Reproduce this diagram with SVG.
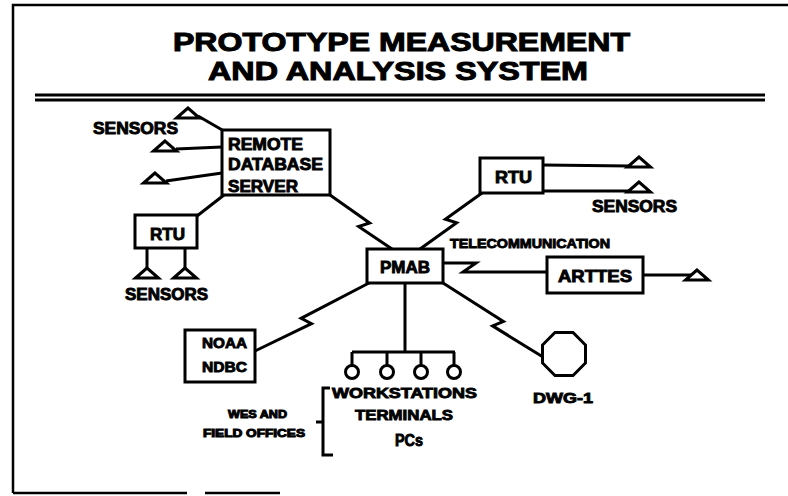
<svg xmlns="http://www.w3.org/2000/svg" xmlns:xlink="http://www.w3.org/1999/xlink" width="788" height="496" viewBox="0 0 788 496">
<style>
.ln{fill:none;stroke:#000;stroke-width:3;stroke-linejoin:miter;stroke-linecap:butt}
.box{fill:#fff;stroke:#000;stroke-width:3}
.sen{fill:#fff;stroke:#000;stroke-width:3;stroke-linejoin:miter}
.t{font-family:"Liberation Sans",Arial,sans-serif;font-weight:bold;fill:#000;stroke:#000;stroke-width:0.9}
.title{font-family:"Liberation Sans",Arial,sans-serif;font-weight:bold;font-size:25.5px;fill:#000;stroke:#000;stroke-width:1}
</style>
<defs>
<polygon id="tri" class="sen" points="0,0 -11.5,10 11.5,10"/>
</defs>
<rect width="788" height="496" fill="#fff"/>

<g id="frame" class="ln">
<path d="M13,493 L13,5 L788,5" stroke-width="2.5"/>
<path d="M13,493 L187,493 M205,493 L280,493" stroke-width="2.5"/>
<path d="M35,95 L765,95" stroke-width="3"/>
<path d="M35,100 L765,100" stroke-width="3"/>
</g>

<g id="title">
<text class="title" x="173" y="51" textLength="457" lengthAdjust="spacingAndGlyphs">PROTOTYPE MEASUREMENT</text>
<text class="title" x="208" y="79.5" textLength="380" lengthAdjust="spacingAndGlyphs">AND ANALYSIS SYSTEM</text>
</g>

<g id="connectors" class="ln">
<path d="M198,116 L224,131"/>
<path d="M176,149 L222,147"/>
<path d="M166,181 L222,173"/>
<path d="M224,195 L197,216"/>
<path d="M147,248 L147,268 M185,248 L185,268"/>
<path d="M330,195 L369.7,222.9 L358.6,226.5 L392,249"/>
<path d="M482,193 L445.4,219.3 L456.6,222.7 L420,249"/>
<path d="M543,165 L630,166 M543,191 L630,191"/>
<path d="M443,263 L476,263 L463,272 L547,272"/>
<path d="M643,275 L691,275"/>
<path d="M369,283 L301.1,318.3 L311.5,323.7 L255,351"/>
<path d="M405,283 L405,352 M352,352 L455,352"/>
<path d="M352,352 L352,366 M387,352 L387,366 M421,352 L421,366 M454,352 L454,366"/>
<path d="M443,283 L503.4,321.5 L492.6,325.9 L543,357"/>
<path d="M330,388 L323,388 L323,455 L333,455 M323,422 L316,422"/>
</g>

<g id="sensors-rds">
<use xlink:href="#tri" x="188" y="108"/>
<use xlink:href="#tri" x="165" y="141"/>
<use xlink:href="#tri" x="155" y="173"/>
<text class="t" x="93" y="134" font-size="16" textLength="85" lengthAdjust="spacingAndGlyphs">SENSORS</text>
</g>

<g id="remote-database-server">
<rect class="box" x="222" y="130" width="108" height="65"/>
<text class="t" x="228" y="150" font-size="16.5" textLength="75" lengthAdjust="spacingAndGlyphs">REMOTE</text>
<text class="t" x="228" y="170" font-size="16.5" textLength="95" lengthAdjust="spacingAndGlyphs">DATABASE</text>
<text class="t" x="228" y="192" font-size="16.5" textLength="70" lengthAdjust="spacingAndGlyphs">SERVER</text>
</g>

<g id="rtu-left">
<rect class="box" x="135" y="215" width="62" height="33"/>
<text class="t" x="150" y="240" font-size="17" textLength="35" lengthAdjust="spacingAndGlyphs">RTU</text>
</g>

<g id="sensors-rtu-left">
<use xlink:href="#tri" x="147" y="268"/>
<use xlink:href="#tri" x="185" y="268"/>
<text class="t" x="125" y="300" font-size="16" textLength="83" lengthAdjust="spacingAndGlyphs">SENSORS</text>
</g>

<g id="rtu-right">
<rect class="box" x="480" y="158" width="63" height="35"/>
<text class="t" x="495" y="183" font-size="16" textLength="37" lengthAdjust="spacingAndGlyphs">RTU</text>
</g>

<g id="sensors-rtu-right">
<use xlink:href="#tri" x="639" y="157"/>
<use xlink:href="#tri" x="639" y="182"/>
<text class="t" x="592" y="212" font-size="16" textLength="85" lengthAdjust="spacingAndGlyphs">SENSORS</text>
</g>

<g id="pmab">
<rect class="box" x="367" y="249" width="76" height="34"/>
<text class="t" x="380" y="273" font-size="17" textLength="50" lengthAdjust="spacingAndGlyphs">PMAB</text>
</g>

<g id="telecom-label">
<text class="t" x="450" y="248" font-size="13" textLength="160" lengthAdjust="spacingAndGlyphs">TELECOMMUNICATION</text>
</g>

<g id="arttes">
<rect class="box" x="547" y="257" width="96" height="36"/>
<text class="t" x="558" y="282" font-size="17" textLength="74" lengthAdjust="spacingAndGlyphs">ARTTES</text>
</g>

<g id="sensor-arttes">
<use xlink:href="#tri" x="697" y="270"/>
</g>

<g id="noaa-ndbc">
<rect class="box" x="185" y="330" width="70" height="52"/>
<text class="t" x="202" y="348" font-size="15" textLength="45" lengthAdjust="spacingAndGlyphs">NOAA</text>
<text class="t" x="202" y="372" font-size="15" textLength="45" lengthAdjust="spacingAndGlyphs">NDBC</text>
</g>

<g id="workstations">
<circle class="box" cx="352" cy="372" r="6.5"/>
<circle class="box" cx="387" cy="372" r="6.5"/>
<circle class="box" cx="421" cy="372" r="6.5"/>
<circle class="box" cx="454" cy="372" r="6.5"/>
<text class="t" x="332" y="398" font-size="15" textLength="145" lengthAdjust="spacingAndGlyphs">WORKSTATIONS</text>
<text class="t" x="355" y="420" font-size="15" textLength="98" lengthAdjust="spacingAndGlyphs">TERMINALS</text>
<text class="t" x="395" y="446" font-size="16" textLength="28" lengthAdjust="spacingAndGlyphs">PCs</text>
</g>

<g id="wes-field-offices">
<text class="t" x="228" y="418" font-size="10" textLength="59" lengthAdjust="spacingAndGlyphs">WES AND</text>
<text class="t" x="203" y="437" font-size="10" textLength="102" lengthAdjust="spacingAndGlyphs">FIELD OFFICES</text>
</g>

<g id="dwg-1">
<polygon class="box" points="555,332.5 573,332.5 585.5,345 585.5,363 573,375.5 555,375.5 542.5,363 542.5,345"/>
<text class="t" x="533" y="403" font-size="15" textLength="60" lengthAdjust="spacingAndGlyphs">DWG-1</text>
</g>
</svg>
